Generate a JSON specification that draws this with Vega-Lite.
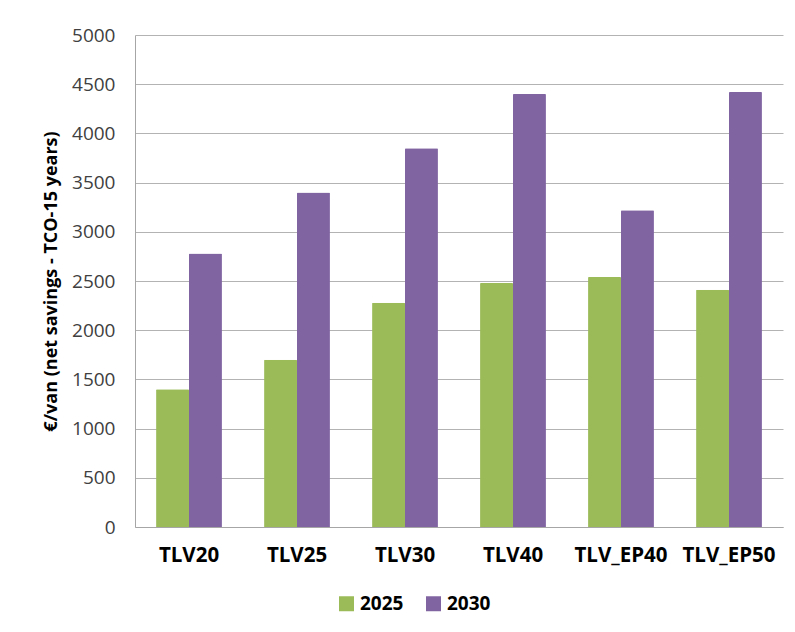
{
  "$schema": "https://vega.github.io/schema/vega-lite/v6.json",
  "width": 648,
  "height": 492,
  "autosize": {"type": "none"},
  "padding": {"left": 135, "top": 35, "right": 12, "bottom": 105},
  "background": "white",
  "data": {
    "values": [
      {"scenario": "TLV20", "year": "2025", "value": 1400},
      {"scenario": "TLV20", "year": "2030", "value": 2780},
      {"scenario": "TLV25", "year": "2025", "value": 1700},
      {"scenario": "TLV25", "year": "2030", "value": 3400},
      {"scenario": "TLV30", "year": "2025", "value": 2280},
      {"scenario": "TLV30", "year": "2030", "value": 3850},
      {"scenario": "TLV40", "year": "2025", "value": 2480},
      {"scenario": "TLV40", "year": "2030", "value": 4400},
      {"scenario": "TLV_EP40", "year": "2025", "value": 2540},
      {"scenario": "TLV_EP40", "year": "2030", "value": 3220},
      {"scenario": "TLV_EP50", "year": "2025", "value": 2410},
      {"scenario": "TLV_EP50", "year": "2030", "value": 4420}
    ]
  },
  "mark": {"type": "bar", "cornerRadiusTopLeft": 1, "cornerRadiusTopRight": 1},
  "encoding": {
    "x": {
      "field": "scenario",
      "type": "nominal",
      "sort": null,
      "scale": {"paddingInner": 0.39, "paddingOuter": 0.195},
      "axis": {
        "title": null,
        "labelAngle": 0,
        "labelFont": "Open Sans",
        "labelFontSize": 20.5,
        "labelFontWeight": "bold",
        "labelColor": "#000000",
        "labelPadding": 18,
        "ticks": false,
        "domainColor": "#a6a6a6",
        "grid": false
      }
    },
    "xOffset": {"field": "year", "type": "nominal"},
    "y": {
      "field": "value",
      "type": "quantitative",
      "scale": {"domain": [0, 5000], "nice": false},
      "axis": {
        "title": "€/van (net savings - TCO-15 years)",
        "titleFont": "Open Sans",
        "titleFontSize": 18,
        "titleFontWeight": "bold",
        "titleColor": "#000000",
        "titleX": -84,
        "titleY": 246,
        "titleAlign": "center",
        "titleBaseline": "middle",
        "values": [0, 500, 1000, 1500, 2000, 2500, 3000, 3500, 4000, 4500, 5000],
        "format": "d",
        "labelFont": "Open Sans",
        "labelFontSize": 19,
        "labelColor": "#404040",
        "labelPadding": 20,
        "ticks": false,
        "domainColor": "#a6a6a6",
        "gridColor": "#b3b3b3",
        "gridWidth": 1
      }
    },
    "color": {
      "field": "year",
      "type": "nominal",
      "scale": {"domain": ["2025", "2030"], "range": ["#9BBB59", "#8064A2"]},
      "legend": {
        "title": null,
        "orient": "none",
        "legendX": 202,
        "legendY": 559,
        "direction": "horizontal",
        "symbolType": "square",
        "symbolSize": 225,
        "symbolStrokeWidth": 0,
        "symbolOpacity": 1,
        "labelFont": "Open Sans",
        "labelFontSize": 19,
        "labelFontWeight": "bold",
        "labelColor": "#000000",
        "columnPadding": 20,
        "labelOffset": 4
      }
    }
  },
  "config": {
    "view": {"stroke": null}
  }
}
